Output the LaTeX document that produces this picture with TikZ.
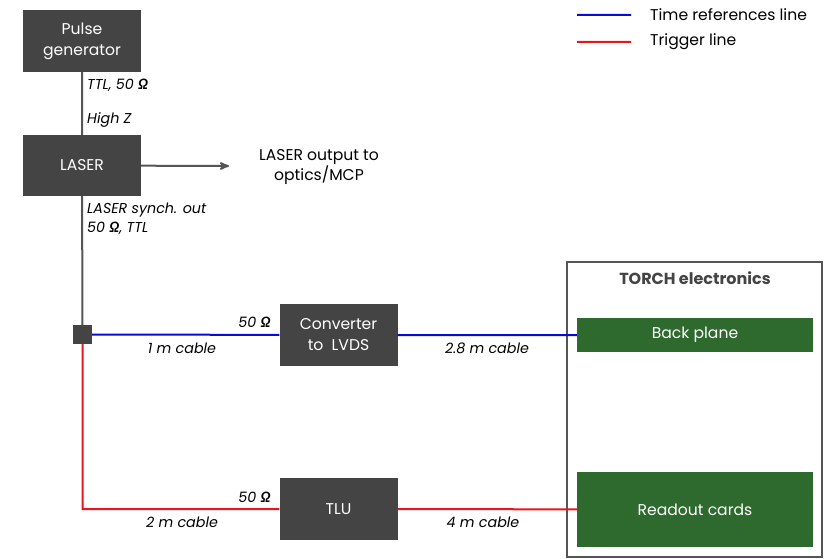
\documentclass[tikz,border=0pt]{standalone}
\usepackage{fontspec}
\setmainfont{Poppins}
\newfontfamily\greekfont{Lato}
\usepackage{tikz}
\usetikzlibrary{arrows,positioning,shapes}
\definecolor{boxgray}{HTML}{444444}
\definecolor{linegray}{HTML}{555555}
\definecolor{cardgreen}{HTML}{2E6A2E}
\definecolor{timeblue}{HTML}{0A0AD8}
\definecolor{trigred}{HTML}{E8161C}
\newcommand{\ohm}{{\greekfont\bfseries\itshape Ω}}

\begin{document}
\begin{tikzpicture}[x=1pt,y=-1pt,
            block/.style={fill=boxgray,text=white,minimum width=118,minimum height=62,align=center,font=\fontsize{15.6}{21}\selectfont,inner sep=0},
            card/.style={fill=cardgreen,text=white,minimum width=236,align=center,font=\fontsize{15.6}{21}\selectfont,inner sep=0},
            lab/.style={font=\fontsize{14.3}{18}\selectfont\itshape,inner sep=0},
            note/.style={font=\fontsize{15.6}{20}\selectfont,align=center,inner sep=0},
            wire/.style={draw=linegray,line width=2},
            timeline/.style={draw=timeblue,line width=2},
            trigline/.style={draw=trigred,line width=2}
          ]
          \useasboundingbox (0,0) rectangle (825,559);

          \node[block] (pulse) at (82,41) {Pulse\\generator};
          \node[block,minimum height=61] (laser) at (82,165.5) {LASER};
          \node[fill=boxgray,minimum size=19,inner sep=0] (junc) at (82.5,334.5) {};
          \node[block] (conv) at (338.5,335) {Converter\\to~ LVDS};
          \node[block] (tlu) at (338.5,509) {TLU};

          %TORCH electronics
          \node[draw=linegray,line width=1.5,minimum width=255,minimum height=295] (torch) at (694.5,409.5) {};
          \node[font=\fontsize{16}{18}\selectfont\bfseries,text=boxgray] (title) at (695,278) {TORCH electronics};
          \node[card,minimum height=34] (back) at (695,335) {Back plane};
          \node[card,minimum height=75] (readout) at (695,509.5) {Readout cards};

          \node[note] (optics) at (319,167) {LASER output to\\optics/MCP};
          \coordinate (outend) at (229,166);

          %labels
          \node[lab,anchor=west] at (87,85) {TTL, 50 \ohm};
          \node[lab,anchor=west] at (87,120) {High Z};
          \node[lab,anchor=west] at (87,210) {LASER synch. out};
          \node[lab,anchor=west] at (87,228) {50 \ohm, TTL};
          \node[lab,anchor=east] at (271,322) {50 \ohm};
          \node[lab] at (182,348) {1 m cable};
          \node[lab] at (487,348) {2.8 m cable};
          \node[lab,anchor=east] at (271,497) {50 \ohm};
          \node[lab] at (182,522) {2 m cable};
          \node[lab] at (483,522) {4 m cable};

          %legend
          \coordinate (b1) at (577,15);
          \coordinate (b2) at (631,15);
          \coordinate (r1) at (577,42);
          \coordinate (r2) at (631,42);
          \node[note,anchor=west] (tlab) at (650,15) {Time references line};
          \node[note,anchor=west] (rlab) at (650,42) {Trigger line};

          \path[wire]
          (pulse) -- (laser)
          (laser) -- (junc)
          ;
          \path[wire,->,>=stealth'] (laser) -- (outend);
          \path[timeline]
          (junc) -- (conv)
          (conv) -- (back)
          (b1) -- (b2)
          ;
          \path[trigline]
          (junc) |- (tlu)
          (tlu) -- (readout)
          (r1) -- (r2)
          ;
          \node[fill=boxgray,minimum size=19,inner sep=0] at (junc) {};

      \end{tikzpicture}
\end{document}
